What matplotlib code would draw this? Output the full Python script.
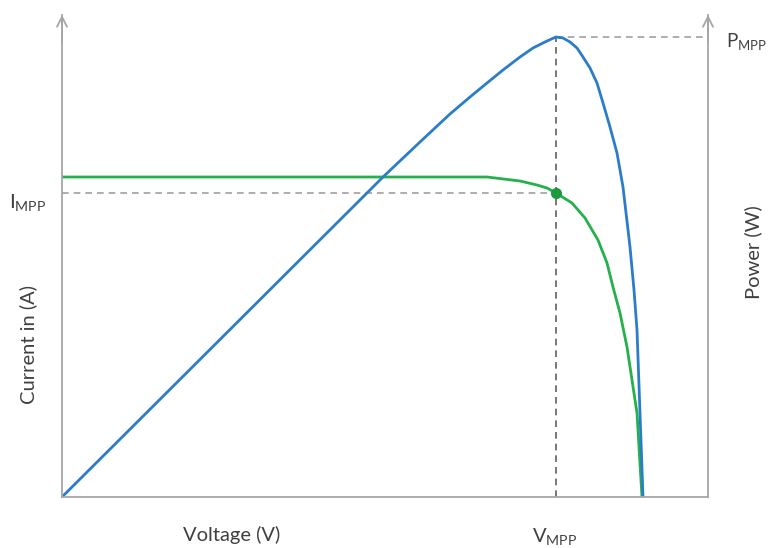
import numpy as np
import matplotlib
matplotlib.use("Agg")
import matplotlib.pyplot as plt

plt.rcParams['font.family'] = ['Lato', 'DejaVu Sans']
plt.rcParams['mathtext.fontset'] = 'custom'
plt.rcParams['mathtext.rm'] = 'Lato'

# (arbitrary units, no ticks shown)
volt_i = [0, 35.8, 42.5, 45.8, 47.5, 48.5, 49.4, 51.0, 52.3, 53.6, 54.5, 55.1,
          55.8, 56.5, 57.0, 57.5, 57.7, 58.0]
current = [32.0, 32.0, 32.0, 31.6, 31.2, 30.9, 30.4, 29.4, 27.9, 25.7, 23.4, 21.0,
           18.4, 15.0, 11.7, 8.4, 5.0, 0.0]

volt_p = [0, 32.1, 35.8, 38.8, 40.8, 42.5, 44.1, 45.8, 47.1, 48.5, 49.4, 50.1,
          50.8, 51.5, 52.1, 52.8, 53.5, 54.1, 54.8, 55.5, 56.1, 56.8, 57.2,
          57.5, 57.8, 58.1]
power = [0, 32.0, 35.5, 38.3, 40.0, 41.4, 42.7, 44.0, 44.9, 45.6, 46.0, 45.9,
         45.5, 44.9, 44.0, 42.9, 41.4, 39.4, 37.0, 34.4, 31.0, 25.0, 20.7,
         16.7, 8.4, 0.0]

v_mpp, i_mpp, p_mpp = 49.4, 30.4, 46.0
x_max, y_max = 64.6, 48.2

fig = plt.figure(figsize=(7.68, 5.48), dpi=100)
ax = fig.add_axes([62/768, 51/548, 646/768, 482/548])
ax.set_xlim(0, x_max)
ax.set_ylim(0, y_max)

axis_col = '#a6a6a6'
for s in ['left', 'right', 'bottom']:
    ax.spines[s].set_color(axis_col)
    ax.spines[s].set_linewidth(1.3)
ax.spines['top'].set_visible(False)
ax.set_xticks([])
ax.set_yticks([])

# open arrow heads on both vertical axes
for x in [0, x_max]:
    ax.annotate('', xy=(x, y_max + 0.3), xytext=(x, y_max - 3),
                arrowprops=dict(arrowstyle='->', color=axis_col, lw=1.3,
                                mutation_scale=18),
                annotation_clip=False)

# guide lines
ax.plot([0, v_mpp], [i_mpp, i_mpp], ls=(0, (4, 3)), color='#a0a0a0', lw=1.2)
ax.plot([v_mpp, x_max], [p_mpp, p_mpp], ls=(0, (4, 3)), color='#a0a0a0', lw=1.2)
ax.plot([v_mpp, v_mpp], [0, p_mpp], ls=(0, (4, 3)), color='#606060', lw=1.2)

ax.plot(volt_i, current, color='#24b04b', lw=2.0, solid_joinstyle='round')
ax.plot(volt_p, power, color='#2b7cc9', lw=2.0, solid_joinstyle='round')
ax.plot([v_mpp], [i_mpp], 'o', color='#1e9a3e', ms=7)

txt = dict(fontsize=14.5, color='#404040')
fig.text(232/768, 1 - 535/548, 'Voltage (V)', ha='center', va='center', **txt)
fig.text(555/768, 1 - 537/548, r'V$_{\mathrm{MPP}}$', ha='center', va='center', **txt)
fig.text(9/768, 1 - 203/548, r'I$_{\mathrm{MPP}}$', ha='left', va='center', **txt)
fig.text(726/768, 1 - 42/548, r'P$_{\mathrm{MPP}}$', ha='left', va='center',
         fontsize=13.5, color='#404040')
fig.text(28/768, 1 - 345/548, 'Current in (A)', rotation=90, ha='center', va='center', **txt)
fig.text(753/768, 1 - 252/548, 'Power (W)', rotation=90, ha='center', va='center', **txt)

fig.savefig('out.png', dpi=100, facecolor='white')
